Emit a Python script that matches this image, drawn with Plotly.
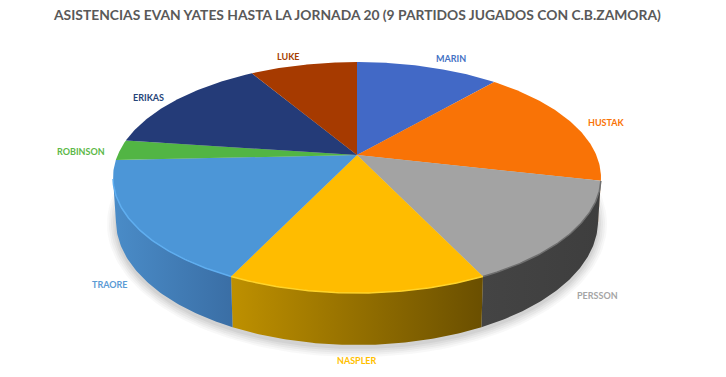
import numpy as np
import plotly.graph_objects as go

names = ["MARIN", "HUSTAK", "PERSSON", "NASPLER", "TRAORE", "ROBINSON", "ERIKAS", "LUKE"]
assists = [4, 6, 5, 5, 6, 1, 5, 3]
top_colors = ["#4269C6", "#F97306", "#A3A3A3", "#FFBC00", "#4C96D7", "#52B544", "#243B78", "#A63A00"]
label_colors = ["#4472C4", "#F97306", "#A5A5A5", "#FFC000", "#5B9BD5", "#5CB848", "#264478", "#A63E00"]
wall_scales = [None, ["#B85500", "#B85500"], ["#444444", "#3E3E3E"], ["#BE9000", "#6A4F00"],
               ["#4A8CC8", "#3A6EA5"], None, None, None]
rim_colors = [None, None, "#6E6E6E", "#FFD42A", "#5FAEF0", None, None, None]
title = "ASISTENCIAS EVAN YATES HASTA LA JORNADA 20 (9 PARTIDOS JUGADOS CON C.B.ZAMORA)"
label_xy = [(451, 58), (606, 122), (597, 295), (357, 360), (109, 284), (81, 151), (148, 97), (288, 56)]

# perspective projection of the pie disc into pixel space
APEX = (357, 155)
A, B, K = 239.3, 111.1, 0.195
TOP = (357, 177.5, 244, 115.5)
BOT = (357, 221, 241, 124)


def rim(deg):
    th = np.radians(deg)
    u, v = np.sin(th), np.cos(th)
    w = 1 + K * v
    return APEX[0] + A * u / w, APEX[1] - B * v / w


def bottom_of(x, y):
    c = (x - TOP[0]) / TOP[2]
    s = (y - TOP[1]) / TOP[3]
    t = np.arctan2(s, c)
    return BOT[0] + BOT[2] * np.cos(t), BOT[1] + BOT[3] * np.sin(t)


fig = go.Figure()


def poly(x, y, color=None, grad=None):
    kw = dict(fillcolor=color) if grad is None else dict(
        fillgradient=dict(type="horizontal", colorscale=[[0, grad[0]], [1, grad[1]]]))
    fig.add_trace(go.Scatter(x=list(x), y=list(y), mode="lines", fill="toself",
                             line=dict(width=0), hoverinfo="skip", showlegend=False, **kw))


# soft shadow under the pie
phi = np.linspace(0, 2 * np.pi, 200)
for grow, alpha in [(9, 0.05), (7, 0.06), (5, 0.07), (3, 0.08), (1, 0.1)]:
    poly(BOT[0] + (BOT[2] + grow) * np.cos(phi), BOT[1] + 3 + (BOT[3] + grow) * np.sin(phi),
         color=f"rgba(120,120,120,{alpha})")

edges = np.concatenate([[0], np.cumsum(assists)]) * 360 / sum(assists)

# side walls, only the part that faces the viewer
for i, scale in enumerate(wall_scales):
    if scale is None:
        continue
    deg = np.linspace(edges[i], edges[i + 1], 80)
    x, y = rim(deg)
    keep = y >= TOP[1]
    x, y = x[keep], y[keep]
    bx, by = bottom_of(x, y)
    poly(np.r_[x, bx[::-1]], np.r_[y, by[::-1]], grad=scale)

# top face
for i, c in enumerate(top_colors):
    deg = np.linspace(edges[i], edges[i + 1], 80)
    x, y = rim(deg)
    poly(np.r_[APEX[0], x, APEX[0]], np.r_[APEX[1], y, APEX[1]], color=c)

# rim highlights
for i, c in enumerate(rim_colors):
    if c is None:
        continue
    deg = np.linspace(edges[i], edges[i + 1], 80)
    x, y = rim(deg)
    keep = y >= TOP[1]
    fig.add_trace(go.Scatter(x=x[keep], y=y[keep], mode="lines", line=dict(color=c, width=1.5),
                             hoverinfo="skip", showlegend=False))

for n, c, (lx, ly) in zip(names, label_colors, label_xy):
    fig.add_annotation(x=lx, y=ly, text=n, showarrow=False,
                       font=dict(family="Lato", size=9, color=c, weight=700))

fig.add_annotation(x=357, y=14, text=title, showarrow=False,
                   font=dict(family="Lato", size=13.85, color="#595959", weight=700))

fig.update_layout(width=726, height=377, margin=dict(l=0, r=0, t=0, b=0),
                  paper_bgcolor="white", plot_bgcolor="white", showlegend=False,
                  xaxis=dict(range=[0, 726], visible=False, fixedrange=True),
                  yaxis=dict(range=[377, 0], visible=False, fixedrange=True))
fig.write_html("out.html", config=dict(displayModeBar=False),
               post_script="document.body.style.margin='0';document.body.style.overflow='hidden';")
